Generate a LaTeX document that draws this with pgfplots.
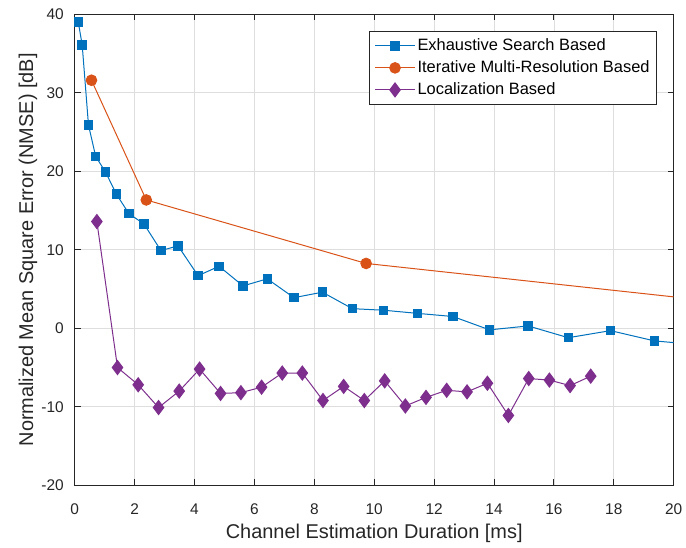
\documentclass[border=0pt]{standalone}
\usepackage{fontspec}
\setmainfont{Liberation Sans}
\usepackage{pgfplots}
\pgfplotsset{compat=1.18}
\definecolor{mblue}{rgb}{0,0.447,0.741}
\definecolor{morange}{rgb}{0.85,0.325,0.098}
\definecolor{mpurple}{rgb}{0.494,0.184,0.556}
\definecolor{axgray}{rgb}{0.15,0.15,0.15}
\definecolor{gridgray}{rgb}{0.87,0.87,0.87}
\begin{document}
\begin{tikzpicture}
\begin{axis}[
  scale only axis,
  width=599bp, height=471bp,
  xmin=0, xmax=20, ymin=-20, ymax=40,
  xtick={0,2,...,20}, ytick={-20,-10,...,40},
  grid=major,
  major grid style={color=gridgray, line width=0.8bp},
  axis line style={color=axgray, line width=0.9bp},
  tick style={color=axgray, line width=0.9bp},
  tick align=inside,
  major tick length=6bp,
  /pgf/number format/assume math mode=true,
  ticklabel style={font=\fontsize{15.5}{18}\selectfont, text=axgray, inner sep=0pt},
  xticklabel style={anchor=base, yshift=-29bp},
  yticklabel style={anchor=east, xshift=-10.7bp},
  label style={font=\fontsize{20}{24}\selectfont, text=axgray},
  xlabel={Channel Estimation Duration [ms]},
  ylabel={Normalized Mean Square Error (NMSE) [dB]},
  xlabel style={at={(axis description cs:0.5,-0.1125)}, anchor=base},
  ylabel style={at={(axis description cs:-0.0696,0.5)}, anchor=base, rotate=0},
  legend style={at={(axis description cs:1,1)}, anchor=north east,
    xshift=-16.7bp, yshift=-16.7bp,
    draw=axgray, line width=0.8bp, fill=white,
    inner xsep=5bp, inner ysep=4.75bp, row sep=2.5bp,
    font=\fontsize{16.5}{19}\selectfont,
    nodes={inner xsep=2bp, inner ysep=2bp, text height=12bp, text depth=3.5bp}},
  legend cell align=left,
  legend image code/.code={\draw[mark repeat=2,mark phase=2] plot coordinates {(0bp,0bp) (20bp,0bp) (40bp,0bp)};},
]
\addplot[color=mblue, line width=1bp, mark=square*, mark size=4.2bp, mark options={fill=mblue, draw=mblue}] coordinates {
(0.12,39.0)(0.25,36.1)(0.46,25.9)(0.70,21.9)(1.03,19.9)(1.39,17.1)(1.81,14.6)(2.31,13.3)(2.88,9.9)(3.45,10.5)(4.12,6.7)(4.82,7.9)(5.62,5.4)(6.43,6.3)(7.32,3.9)(8.27,4.6)(9.27,2.5)(10.32,2.3)(11.45,1.9)(12.63,1.5)(13.85,-0.2)(15.14,0.3)(16.48,-1.2)(17.89,-0.3)(19.35,-1.6)(20.8,-2.1)
};
\addlegendentry{Exhaustive Search Based}
\addplot[color=morange, line width=1bp, mark=*, mark size=5.3bp, mark options={fill=morange, draw=morange}] coordinates {
(0.56,31.6)(2.39,16.35)(9.73,8.26)(25,1.93)
};
\addlegendentry{Iterative Multi-Resolution Based}
\addplot[color=mpurple, line width=1bp, mark=diamond*, mark size=7bp, mark options={fill=mpurple, draw=mpurple}] coordinates {
(0.74,13.6)(1.43,-5.0)(2.12,-7.2)(2.80,-10.1)(3.49,-8.0)(4.17,-5.2)(4.87,-8.3)(5.55,-8.2)(6.24,-7.5)(6.93,-5.7)(7.60,-5.7)(8.29,-9.2)(8.98,-7.4)(9.67,-9.2)(10.35,-6.7)(11.04,-9.9)(11.73,-8.8)(12.42,-7.9)(13.10,-8.1)(13.78,-7.0)(14.48,-11.1)(15.16,-6.4)(15.85,-6.6)(16.54,-7.3)(17.23,-6.1)
};
\addlegendentry{Localization Based}
\end{axis}
\pgfresetboundingbox
\path[use as bounding box] ([shift={(-74.7bp,-62bp)}]current axis.south west) rectangle ([shift={(12.3bp,14.3bp)}]current axis.north east);
\end{tikzpicture}
\end{document}
